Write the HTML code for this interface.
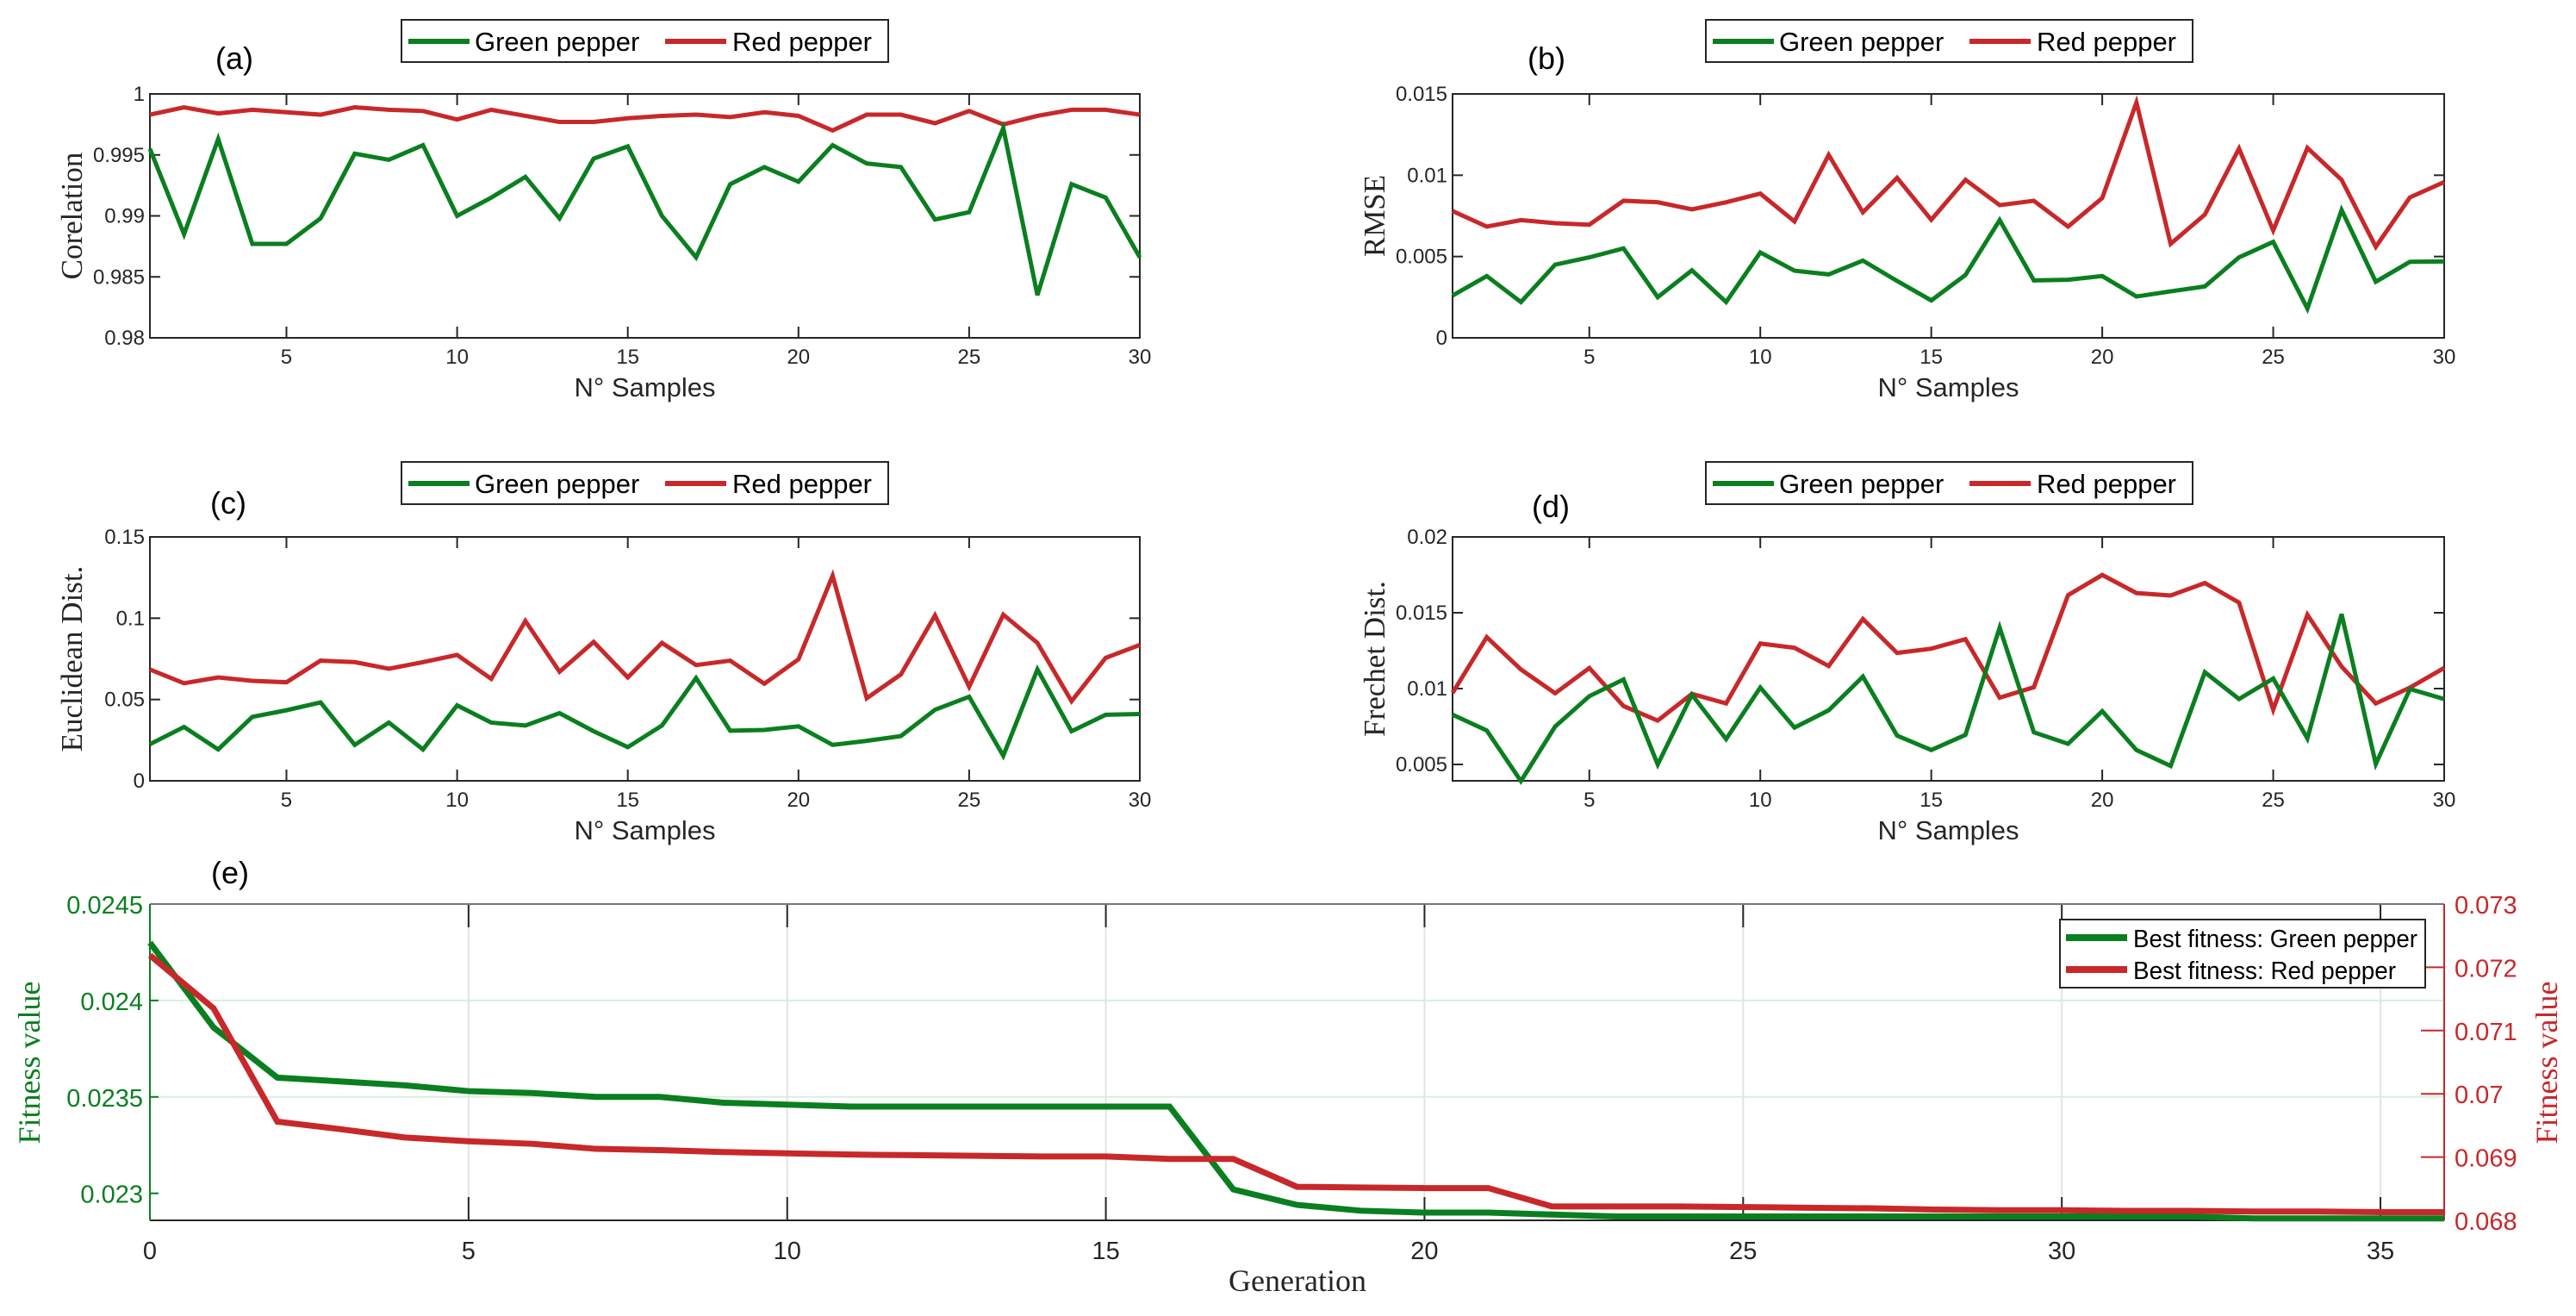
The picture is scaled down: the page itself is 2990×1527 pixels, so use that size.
<!DOCTYPE html>
<html><head><meta charset="utf-8"><style>
html,body{margin:0;padding:0;background:#fff;}
svg{display:block;}
text{font-family:"Liberation Sans",sans-serif;}
.serif{font-family:"Liberation Serif",serif;}
</style></head><body>
<svg id="fig" width="2990" height="1527" viewBox="0 0 2990 1527" xmlns="http://www.w3.org/2000/svg"></svg>
<script>
const samples = Array.from({length:30},(_,i)=>i+1);
const corrGreen=[0.9955,0.9885,0.9963,0.9877,0.9877,0.9898,0.9951,0.9946,0.9958,0.9900,0.9915,0.9932,0.9898,0.9947,0.9957,0.9900,0.9866,0.9926,0.9940,0.9928,0.9958,0.9943,0.9940,0.9897,0.9903,0.9972,0.9835,0.9926,0.9915,0.9866];
const corrRed=[0.9983,0.9989,0.9984,0.9987,0.9985,0.9983,0.9989,0.9987,0.9986,0.9979,0.9987,0.9982,0.9977,0.9977,0.9980,0.9982,0.9983,0.9981,0.9985,0.9982,0.9970,0.9983,0.9983,0.9976,0.9986,0.9975,0.9982,0.9987,0.9987,0.9983];
const rmseGreen=[0.0026,0.0038,0.0022,0.0045,0.00495,0.0055,0.0025,0.00415,0.0022,0.00525,0.00413,0.0039,0.00475,0.0035,0.0023,0.00387,0.00724,0.00353,0.00357,0.0038,0.00254,0.00286,0.00316,0.00495,0.0059,0.0018,0.00786,0.00345,0.00468,0.0047];
const rmseRed=[0.0078,0.00684,0.00724,0.00705,0.00696,0.00843,0.00834,0.0079,0.00834,0.00887,0.00716,0.01125,0.00772,0.00984,0.00726,0.00972,0.00816,0.00843,0.00684,0.0086,0.01447,0.00578,0.00758,0.01164,0.00661,0.01168,0.00972,0.0056,0.00864,0.00958];
const eucGreen=[0.0225,0.0331,0.0193,0.0393,0.0434,0.0482,0.0221,0.0358,0.0193,0.0464,0.0358,0.034,0.0416,0.0305,0.0207,0.034,0.0632,0.0308,0.0313,0.0335,0.0221,0.0246,0.0275,0.0437,0.0517,0.0154,0.0685,0.0305,0.0406,0.0411];
const eucRed=[0.0685,0.060,0.0636,0.0615,0.0606,0.0739,0.073,0.0689,0.073,0.0774,0.0627,0.0983,0.0671,0.0854,0.0636,0.0848,0.0712,0.0739,0.0597,0.0747,0.1261,0.0508,0.0654,0.1017,0.0579,0.1022,0.0848,0.049,0.0756,0.0836];
const freGreen=[0.00828,0.00724,0.0039,0.0075,0.0095,0.0106,0.005,0.0096,0.00667,0.01007,0.00743,0.00857,0.01079,0.0069,0.00595,0.00695,0.01402,0.00712,0.00636,0.00851,0.00595,0.0049,0.01108,0.00931,0.01066,0.00671,0.01491,0.00503,0.00997,0.00931];
const freRed=[0.00971,0.01339,0.01126,0.00969,0.01136,0.00885,0.00789,0.00965,0.00902,0.01297,0.01269,0.01149,0.01459,0.01235,0.01263,0.01326,0.0094,0.01009,0.01616,0.01749,0.0163,0.01614,0.01696,0.01567,0.00861,0.01487,0.01145,0.00902,0.01007,0.01136];
const generations = Array.from({length:37},(_,i)=>i);
const fitGreen=[0.02430,0.02386,0.02360,0.02358,0.02356,0.02353,0.02352,0.02350,0.02350,0.02347,0.02346,0.02345,0.02345,0.02345,0.02345,0.02345,0.02345,0.02302,0.02294,0.02291,0.02290,0.02290,0.02289,0.02288,0.02288,0.02288,0.02288,0.02288,0.02288,0.02288,0.02288,0.02288,0.02288,0.02287,0.02287,0.02287,0.02287];
const fitRed=[0.07219,0.07135,0.06956,0.06944,0.06931,0.06925,0.06921,0.06913,0.06911,0.06908,0.06906,0.06904,0.06903,0.06902,0.06901,0.06901,0.06897,0.06897,0.06853,0.06852,0.06851,0.06851,0.06822,0.06822,0.06822,0.06821,0.06820,0.06819,0.06817,0.06816,0.06816,0.06815,0.06815,0.06814,0.06814,0.06813,0.06813];
const corrTicks=[0.98,0.985,0.99,0.995,1], corrTickLabels=["0.98","0.985","0.99","0.995","1"];
const rmseTicks=[0,0.005,0.01,0.015], rmseTickLabels=["0","0.005","0.01","0.015"];
const eucTicks=[0,0.05,0.1,0.15], eucTickLabels=["0","0.05","0.1","0.15"];
const freTicks=[0.005,0.01,0.015,0.02], freTickLabels=["0.005","0.01","0.015","0.02"];
const xTicks=[5,10,15,20,25,30];
const genTicks=[0,5,10,15,20,25,30,35];
const fitLTicks=[0.023,0.0235,0.024,0.0245], fitLTickLabels=["0.023","0.0235","0.024","0.0245"];
const fitRTicks=[0.068,0.069,0.07,0.071,0.072,0.073], fitRTickLabels=["0.068","0.069","0.07","0.071","0.072","0.073"];

const G="#0a7f1f", R="#c8282a", NS="http://www.w3.org/2000/svg";
const svg=document.getElementById('fig');
function mk(tag,attrs,parent,txt){const e=document.createElementNS(NS,tag);for(const k in attrs)e.setAttribute(k,attrs[k]);if(txt!==undefined)e.textContent=txt;(parent||svg).appendChild(e);return e;}

function panel(o){
  const g=mk('g',{});
  
  
  const sx=v=>o.L+(v-1)/(29)*(o.R-o.L);
  const sy=v=>o.B-(v-o.ymin)/(o.ymax-o.ymin)*(o.B-o.T);
  mk('rect',{x:o.L,y:o.T,width:o.R-o.L,height:o.B-o.T,fill:'#fff',stroke:'#262626','stroke-width':2},g);
  xTicks.forEach(t=>{const x=sx(t);
    mk('line',{x1:x,y1:o.B,x2:x,y2:o.B-13,stroke:'#262626','stroke-width':2},g);
    mk('line',{x1:x,y1:o.T,x2:x,y2:o.T+13,stroke:'#262626','stroke-width':2},g);
    const tl=mk('text',{x:x,y:o.B+30,'font-size':24,'text-anchor':'middle',fill:'#262626'},g,String(t));
    
    
  });
  o.yt.forEach((t,i)=>{const y=sy(t);
    mk('line',{x1:o.L,y1:y,x2:o.L+12,y2:y,stroke:'#262626','stroke-width':2},g);
    mk('line',{x1:o.R,y1:y,x2:o.R-12,y2:y,stroke:'#262626','stroke-width':2},g);
    const tl=mk('text',{x:o.L-6,y:y+8,'font-size':24,'text-anchor':'end',fill:'#262626'},g,o.yl[i]);
    
    
  });
  [[o.red,R,'red-pepper-line'],[o.green,G,'green-pepper-line']].forEach(([d,c,n])=>{
    const p=mk('polyline',{points:d.map((v,i)=>sx(samples[i])+','+sy(v)).join(' '),fill:'none',stroke:c,'stroke-width':5,'stroke-linejoin':'miter'},g);
    
    
  });
  const xl=mk('text',{x:(o.L+o.R)/2,y:o.B+68,'font-size':31,'text-anchor':'middle',fill:'#262626'},g,'N° Samples');
  
  
  const yl=mk('text',{x:0,y:0,'font-size':35,'text-anchor':'middle',fill:'#262626',class:'serif',transform:`translate(${o.L-79},${(o.T+o.B)/2}) rotate(-90)`},g,o.ylabel);
  
  
  const pl=mk('text',{x:o.lx,y:o.ly,'font-size':36,'text-anchor':'middle',fill:'#000'},g,o.letter);
  
  
  const lg=mk('g',{},g);
  
  
  mk('rect',{x:o.bx,y:o.by,width:565,height:49,fill:'#fff',stroke:'#262626','stroke-width':2},lg);
  mk('line',{x1:o.bx+8,y1:o.by+25,x2:o.bx+79,y2:o.by+25,stroke:G,'stroke-width':6},lg);
  const t1=mk('text',{x:o.bx+85,y:o.by+36,'font-size':31,fill:'#000'},lg,'Green pepper');
  
  
  mk('line',{x1:o.bx+306,y1:o.by+25,x2:o.bx+377,y2:o.by+25,stroke:R,'stroke-width':6},lg);
  const t2=mk('text',{x:o.bx+384,y:o.by+36,'font-size':31,fill:'#000'},lg,'Red pepper');
  
  
}
panel({name:'panel-a-correlation',L:174,R:1323,T:109,B:392,ymin:0.98,ymax:1,yt:corrTicks,yl:corrTickLabels,green:corrGreen,red:corrRed,ylabel:'Corelation',letter:'(a)',lx:272,ly:80,bx:466,by:23});
panel({name:'panel-b-rmse',L:1686,R:2837,T:109,B:392,ymin:0,ymax:0.015,yt:rmseTicks,yl:rmseTickLabels,green:rmseGreen,red:rmseRed,ylabel:'RMSE',letter:'(b)',lx:1795,ly:80,bx:1980,by:23});
panel({name:'panel-c-euclidean',L:174,R:1323,T:623,B:906,ymin:0,ymax:0.15,yt:eucTicks,yl:eucTickLabels,green:eucGreen,red:eucRed,ylabel:'Euclidean Dist.',letter:'(c)',lx:265,ly:596,bx:466,by:536});
panel({name:'panel-d-frechet',L:1686,R:2837,T:623,B:906,ymin:0.00392,ymax:0.02,yt:freTicks,yl:freTickLabels,green:freGreen,red:freRed,ylabel:'Frechet Dist.',letter:'(d)',lx:1800,ly:600,bx:1980,by:536});

// Panel (e)
(function(){
  const L=174,Rr=2837,T=1049,B=1416;
  const g=mk('g',{});
  
  
  const sx=v=>L+v/36*(Rr-L);
  const lmin=0.02286,lmax=0.0245,rmin=0.068,rmax=0.073;
  const syL=v=>B-(v-lmin)/(lmax-lmin)*(B-T);
  const syR=v=>B-(v-rmin)/(rmax-rmin)*(B-T);
  genTicks.forEach(t=>{const x=sx(t);
    if(t>0) mk('line',{x1:x,y1:T,x2:x,y2:B,stroke:'#e3e3e3','stroke-width':2},g);
    mk('line',{x1:x,y1:B,x2:x,y2:B-27,stroke:'#262626','stroke-width':2},g);
    mk('line',{x1:x,y1:T,x2:x,y2:T+27,stroke:'#262626','stroke-width':2},g);
    const tl=mk('text',{x:x,y:B+45,'font-size':29,'text-anchor':'middle',fill:'#262626'},g,String(t));
    
    
  });
  fitLTicks.forEach((t,i)=>{const y=syL(t);
    if(i>0&&i<3) mk('line',{x1:L,y1:y,x2:Rr,y2:y,stroke:'#d9eedb','stroke-width':2},g);
    mk('line',{x1:L,y1:y,x2:L+10,y2:y,stroke:G,'stroke-width':2},g);
    const tl=mk('text',{x:L-8,y:y+11,'font-size':29,'text-anchor':'end',fill:G},g,fitLTickLabels[i]);
    
    
  });
  fitRTicks.forEach((t,i)=>{const y=syR(t);
    mk('line',{x1:Rr,y1:y,x2:Rr-27,y2:y,stroke:R,'stroke-width':2},g);
    const tl=mk('text',{x:Rr+12,y:y+11,'font-size':29,'text-anchor':'start',fill:R},g,fitRTickLabels[i]);
    
    
  });
  mk('line',{x1:L,y1:T,x2:Rr,y2:T,stroke:'#777','stroke-width':2},g);
  mk('line',{x1:L,y1:B,x2:Rr,y2:B,stroke:'#262626','stroke-width':2},g);
  mk('line',{x1:L,y1:T,x2:L,y2:B,stroke:G,'stroke-width':2},g);
  mk('line',{x1:Rr,y1:T,x2:Rr,y2:B,stroke:R,'stroke-width':2},g);
  const pg=mk('polyline',{points:fitGreen.map((v,i)=>sx(generations[i])+','+syL(v)).join(' '),fill:'none',stroke:G,'stroke-width':7},g);
  
  
  const pr=mk('polyline',{points:fitRed.map((v,i)=>sx(generations[i])+','+syR(v)).join(' '),fill:'none',stroke:R,'stroke-width':7},g);
  
  
  const xl=mk('text',{x:1506,y:1498,'font-size':36,'text-anchor':'middle',fill:'#262626',class:'serif'},g,'Generation');
  
  
  const yl=mk('text',{x:0,y:0,'font-size':36,'text-anchor':'middle',fill:G,class:'serif',transform:`translate(46,1233) rotate(-90)`},g,'Fitness value');
  
  
  const yr=mk('text',{x:0,y:0,'font-size':36,'text-anchor':'middle',fill:R,class:'serif',transform:`translate(2968,1233) rotate(-90)`},g,'Fitness value');
  
  
  const pl=mk('text',{x:267,y:1025,'font-size':36,'text-anchor':'middle',fill:'#000'},g,'(e)');
  
  
  const lg=mk('g',{},g);
  
  
  mk('rect',{x:2391,y:1067,width:424,height:79,fill:'#fff',stroke:'#262626','stroke-width':2},lg);
  mk('line',{x1:2398,y1:1088,x2:2469,y2:1088,stroke:G,'stroke-width':8},lg);
  const a=mk('text',{x:2476,y:1099,'font-size':29,fill:'#000',textLength:330,lengthAdjust:'spacingAndGlyphs'},lg,'Best fitness: Green pepper');
  
  
  mk('line',{x1:2398,y1:1125,x2:2469,y2:1125,stroke:R,'stroke-width':8},lg);
  const b=mk('text',{x:2476,y:1136,'font-size':29,fill:'#000',textLength:305,lengthAdjust:'spacingAndGlyphs'},lg,'Best fitness: Red pepper');
  
  
})();
</script>
</body></html>
